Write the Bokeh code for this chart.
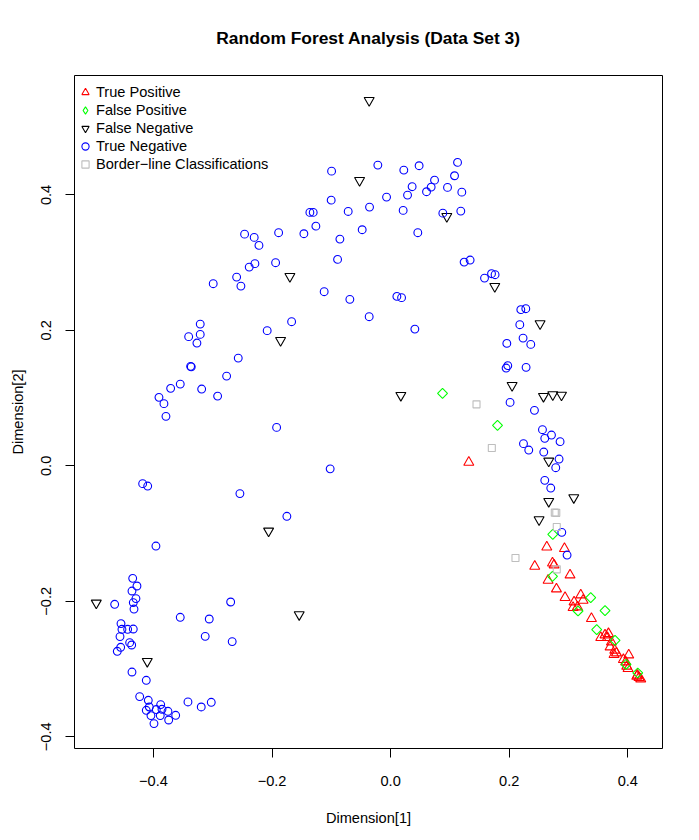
from bokeh.plotting import figure
from bokeh.models import Legend, LegendItem, FixedTicker, Range1d
from bokeh.embed import file_html
from bokeh.resources import INLINE
import math

FONT = "Liberation Sans"

title_text = "Random Forest Analysis (Data Set 3)"
x_label = "Dimension[1]"
y_label = "Dimension[2]"
legend_labels = ["True Positive", "False Positive", "False Negative",
                 "True Negative", "Border\u2212line Classifications"]

x_ticks = [-0.4, -0.2, 0.0, 0.2, 0.4]
x_tick_labels = ["\u22120.4", "\u22120.2", "0.0", "0.2", "0.4"]
y_ticks = [-0.4, -0.2, 0.0, 0.2, 0.4]
y_tick_labels = ["\u22120.4", "\u22120.2", "0.0", "0.2", "0.4"]

# True Positive (red triangles)
tp_x = [0.1318, 0.2633, 0.2931, 0.2430, 0.2729, 0.2756, 0.3025, 0.2655, 0.2796,
        0.2941, 0.3206, 0.3245, 0.3093, 0.3076, 0.3150, 0.3386, 0.3543, 0.3615,
        0.3673, 0.3656, 0.3723, 0.3700, 0.3779, 0.3808, 0.3767, 0.4015, 0.3925,
        0.3964, 0.3981, 0.4003, 0.4162, 0.4188, 0.4217, 0.4150]
tp_y = [0.0052, -0.1199, -0.1222, -0.1483, -0.1435, -0.1464, -0.1612, -0.1690, -0.1818,
        -0.1945, -0.1907, -0.1985, -0.2010, -0.2093, -0.2084, -0.2255, -0.2536, -0.2497,
        -0.2477, -0.2536, -0.2601, -0.2675, -0.2723, -0.2763, -0.2787, -0.2793, -0.2861,
        -0.2896, -0.2959, -0.2993, -0.3092, -0.3126, -0.3147, -0.3107]

# False Positive (green diamonds)
fp_x = [0.0875, 0.1802, 0.2734, 0.2729, 0.3374, 0.3160, 0.3615, 0.3475, 0.3784,
        0.3969, 0.4167]
fp_y = [0.1070, 0.0598, -0.1011, -0.1631, -0.1945, -0.2143, -0.2137, -0.2418, -0.2576,
        -0.2930, -0.3058]

# False Negative (black inverted triangles)
fn_x = [-0.0362, -0.0524, 0.0947, -0.1699, 0.1756, -0.1856, 0.2520, 0.2048, 0.2577,
        0.2734, 0.2881, 0.0172, 0.2666, 0.2666, 0.3088, 0.2503, -0.2058, -0.4964,
        -0.1542, -0.4104]
fn_y = [0.5395, 0.4214, 0.3683, 0.2797, 0.2649, 0.1852, 0.2099, 0.1188, 0.1026,
        0.1051, 0.1045, 0.1041, 0.0071, -0.0524, -0.0469, -0.0794, -0.0962, -0.2025,
        -0.2196, -0.2886]

# True Negative (blue circles)
tn_x = [-0.0996, -0.0216, 0.0222, 0.0480, 0.1128, 0.1077, 0.0740, 0.0362, 0.0683,
        0.0605, 0.0959, 0.1200, 0.0285, -0.0069, -0.1003, -0.1362, -0.1306, -0.0716,
        -0.0356, 0.0211, 0.0880, 0.1183, -0.1889, -0.1463, -0.1261, -0.0480, -0.0856,
        0.0458, -0.1940, -0.0895, 0.1239, 0.1340, 0.1583, 0.1701, 0.1761, -0.1121,
        -0.0688, 0.0105, 0.0184, -0.1670, -0.0362, 0.0408,
        -0.2463, -0.2301, -0.2221, -0.2385, -0.2289, -0.2597, -0.2525, -0.2992, -0.3211,
        -0.3406, -0.3211, -0.3267, -0.2082, -0.2570, -0.3373, -0.3362, -0.2766, -0.3548,
        -0.3710, -0.3187, -0.2918, -0.3907, -0.3823, -0.3789, -0.1923, -0.1020,
        0.2195, 0.2279, 0.2178, 0.2233, 0.2363, 0.1959, 0.1975, 0.1947, 0.2284,
        0.2014, 0.2425, 0.2560, 0.2712, 0.2599, 0.2857, 0.2240, 0.2329, 0.2582,
        0.2840, 0.2784, 0.2599, 0.2700, 0.2886, 0.2975,
        -0.4182, -0.4097, -0.2542, -0.1750, -0.3958, -0.4350, -0.4278, -0.4362, -0.4295,
        -0.4340, -0.4328, -0.4654, -0.2698, -0.3548, -0.3059, -0.4547, -0.4531, -0.4435,
        -0.4340, -0.4564, -0.3127, -0.2672, -0.4401, -0.4367, -0.4553, -0.4610, -0.4362,
        -0.4121, -0.4232, -0.4087, -0.3418, -0.3025, -0.3194, -0.3878, -0.4070, -0.4121,
        -0.3952, -0.3856, -0.3755, -0.4042, -0.3885, -0.3625, -0.3743, -0.3991]
tn_y = [0.4351, 0.4440, 0.4366, 0.4431, 0.4480, 0.4283, 0.4218, 0.4121, 0.4115,
        0.4047, 0.4111, 0.4041, 0.3997, 0.3968, 0.3923, 0.3742, 0.3742, 0.3756,
        0.3820, 0.3771, 0.3731, 0.3761, 0.3442, 0.3427, 0.3539, 0.3486, 0.3348,
        0.3442, 0.2999, 0.3048, 0.3008, 0.3038, 0.2772, 0.2837, 0.2822, 0.2571,
        0.2458, 0.2502, 0.2483, 0.2128, 0.2202, 0.2019,
        0.3421, 0.3373, 0.3255, 0.2934, 0.2985, 0.2787, 0.2654, 0.2689, 0.2093,
        0.1907, 0.1941, 0.1813, 0.1996, 0.1591, 0.1469, 0.1462, 0.1325, 0.1207,
        0.1144, 0.1134, 0.1030, 0.1011, 0.0918, 0.0731, 0.0568, -0.0044,
        0.2306, 0.2320, 0.2084, 0.1886, 0.1793, 0.1808, 0.1479, 0.1444, 0.1454,
        0.0937, 0.0819, 0.0534, 0.0455, 0.0406, 0.0357, 0.0328, 0.0233, 0.0204,
        0.0100, -0.0027, -0.0214, -0.0328, -0.0982, -0.1317,
        -0.0263, -0.0298, -0.0410, -0.0745, -0.1184, -0.1661, -0.1774, -0.1848, -0.1960,
        -0.2019, -0.2114, -0.2044, -0.2010, -0.2236, -0.2261, -0.2329, -0.2413, -0.2413,
        -0.2409, -0.2521, -0.2517, -0.2595, -0.2610, -0.2645, -0.2679, -0.2738, -0.3044,
        -0.3166, -0.3407, -0.3461, -0.3486, -0.3491, -0.3560, -0.3525, -0.3560, -0.3609,
        -0.3598, -0.3594, -0.3624, -0.3687, -0.3687, -0.3683, -0.3752, -0.3805]

# Border-line classifications (grey squares)
bl_x = [0.1448, 0.1706, 0.2768, 0.2793, 0.2801, 0.2105, 0.2801]
bl_y = [0.0908, 0.0263, -0.0691, -0.0694, -0.0903, -0.1361, -0.1528]

# R-style 4% axis expansion
all_x = tp_x + fp_x + fn_x + tn_x + bl_x
all_y = tp_y + fp_y + fn_y + tn_y + bl_y
dx = (max(all_x) - min(all_x)) * 0.04
dy = (max(all_y) - min(all_y)) * 0.04

FRAME_W, FRAME_H = 588, 673
p = figure(frame_width=FRAME_W, frame_height=FRAME_H,
           min_border_left=74, min_border_right=29, min_border_top=75, min_border_bottom=84,
           x_range=Range1d(min(all_x) - dx, max(all_x) + dx),
           y_range=Range1d(min(all_y) - dy, max(all_y) + dy),
           output_backend="svg", toolbar_location=None,
           background_fill_color="white", border_fill_color="white")

p.title.text = title_text
p.title.text_font = FONT
p.title.text_font_size = "17.4px"
p.title.text_font_style = "bold"
p.title.text_color = "black"
p.title.align = "center"
p.title.vertical_align = "middle"
p.title.standoff = 53

p.grid.visible = False
p.outline_line_color = "black"
p.outline_line_width = 1
p.outline_line_alpha = 1

for ax, ticks, labels in ((p.xaxis[0], x_ticks, x_tick_labels), (p.yaxis[0], y_ticks, y_tick_labels)):
    ax.ticker = FixedTicker(ticks=ticks)
    ax.major_label_overrides = {t: l for t, l in zip(ticks, labels)}
    ax.axis_line_color = None
    ax.major_tick_line_color = "black"
    ax.major_tick_in = 0
    ax.major_tick_out = 9
    ax.minor_tick_line_color = None
    ax.major_label_text_font = FONT
    ax.major_label_text_font_size = "14.6px"
    ax.major_label_text_color = "black"
    ax.axis_label_text_font = FONT
    ax.axis_label_text_font_size = "14.6px"
    ax.axis_label_text_font_style = "normal"
    ax.axis_label_text_color = "black"

p.xaxis.axis_label = x_label
p.yaxis.axis_label = y_label
p.xaxis.major_label_standoff = 18
p.xaxis.axis_label_standoff = 21
p.yaxis.major_label_orientation = "vertical"
p.yaxis.major_label_standoff = 14
p.yaxis.axis_label_standoff = 13

LW = 1.1
r_tp = p.scatter(tp_x, tp_y, marker="triangle", size=10, fill_color=None,
                 line_color="#FF0000", line_width=LW)
r_fp = p.scatter(fp_x, fp_y, marker="square", angle=math.pi / 4, size=7, fill_color=None,
                 line_color="#00FF00", line_width=LW)
r_fn = p.scatter(fn_x, fn_y, marker="inverted_triangle", size=10, fill_color=None,
                 line_color="black", line_width=LW)
r_tn = p.scatter(tn_x, tn_y, marker="circle", size=7.8, fill_color=None,
                 line_color="#0000FF", line_width=LW)
r_bl = p.scatter(bl_x, bl_y, marker="square", size=7, fill_color=None,
                 line_color="#BEBEBE", line_width=LW)
# legend-only glyph for the diamond (legend glyphs are never rotated); NaN point draws nothing
r_fp_leg = p.scatter([float("nan")], [float("nan")], marker="diamond", size=10,
                     fill_color=None, line_color="#00FF00", line_width=LW)

ROW_H = 18
legend = Legend(items=[
    LegendItem(label=legend_labels[0], renderers=[r_tp]),
    LegendItem(label=legend_labels[1], renderers=[r_fp_leg]),
    LegendItem(label=legend_labels[2], renderers=[r_fn]),
    LegendItem(label=legend_labels[3], renderers=[r_tn]),
    LegendItem(label=legend_labels[4], renderers=[r_bl]),
])
legend.glyph_width = 22
legend.glyph_height = ROW_H
legend.spacing = 0
legend.padding = 0
legend.margin = 0
legend.label_standoff = 0
legend.label_height = ROW_H
legend.location = (0, FRAME_H - 8 - 5 * ROW_H)
legend.label_text_font = FONT
legend.label_text_font_size = "14.6px"
legend.label_text_color = "black"
legend.border_line_color = None
legend.background_fill_alpha = 0
p.add_layout(legend)

open("out.html", "w").write(file_html(p, INLINE))
